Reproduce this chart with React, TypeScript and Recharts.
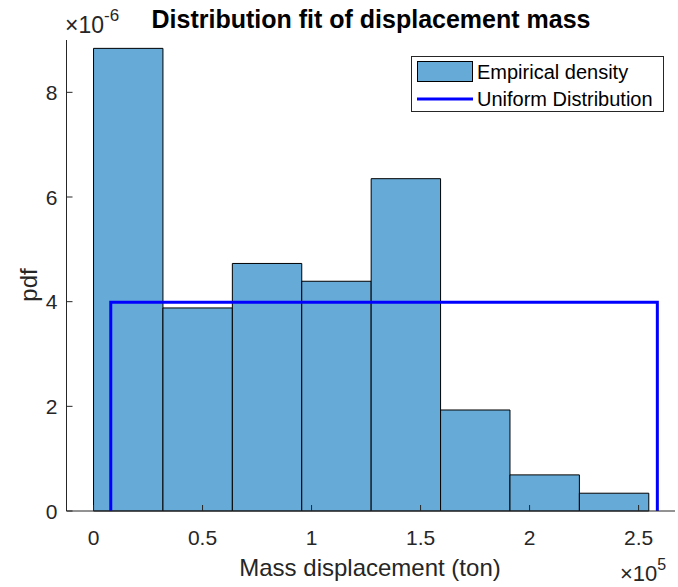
import React from 'react';
import {
  ComposedChart,
  XAxis,
  YAxis,
  Line,
  ReferenceArea,
  Legend,
  Label,
  Customized,
} from 'recharts';

// Histogram bin edges (ton) and empirical density per bin
const binEdges = [0, 31835, 63670, 95505, 127340, 159175, 191010, 222845, 254680];
const binDensity = [8.84e-6, 3.88e-6, 4.73e-6, 4.39e-6, 6.35e-6, 1.93e-6, 0.69e-6, 0.34e-6];

// Fitted uniform distribution: support [low, high] and its pdf level
const uniformLow = 7900;
const uniformHigh = 258600;
const uniformPdf = 3.99e-6;

const xTicks = [0, 50000, 100000, 150000, 200000, 250000];
const yTicks = [0, 2e-6, 4e-6, 6e-6, 8e-6];

const xDomain = [-12400, 266700];
const yDomain = [0, 9e-6];

const uniformCurve = [
  { x: uniformLow, y: 0 },
  { x: uniformLow, y: uniformPdf },
  { x: uniformHigh, y: uniformPdf },
  { x: uniformHigh, y: 0 },
];

const AXIS = '#262626';
const FONT = 'Liberation Sans, Arial, Helvetica, sans-serif';
const BAR_FILL = '#66AAD7';
const LINE_BLUE = '#0000FF';
const TICK_FS = 21;
const LABEL_FS = 24;
const LEGEND_FS = 20;

const fmtX = (v: number) => String(Math.round((v / 1e5) * 100) / 100);
const fmtY = (v: number) => String(Math.round(v * 1e6 * 100) / 100);

// MATLAB-like ticks: short marks pointing into the plot, label outside
const XTick = (props: any) => {
  const { x, y, payload } = props;
  return (
    <g>
      <line x1={x} y1={y} x2={x} y2={y - 6} stroke={AXIS} strokeWidth={1} />
      <text x={x} y={y + 34} textAnchor="middle" fill={AXIS} fontSize={TICK_FS} fontFamily={FONT}>
        {fmtX(payload.value)}
      </text>
    </g>
  );
};

const YTick = (props: any) => {
  const { x, y, payload } = props;
  return (
    <g>
      <line x1={x} y1={y} x2={x + 6} y2={y} stroke={AXIS} strokeWidth={1} />
      <text x={x - 9} y={y + 7.5} textAnchor="end" fill={AXIS} fontSize={TICK_FS} fontFamily={FONT}>
        {fmtY(payload.value)}
      </text>
    </g>
  );
};

const LegendBox = () => (
  <div
    style={{
      width: 253,
      height: 56,
      border: `1px solid ${AXIS}`,
      background: '#fff',
      fontFamily: FONT,
      fontSize: LEGEND_FS,
      color: '#000',
      boxSizing: 'border-box',
      position: 'relative',
    }}
  >
    <svg width={62} height={54} style={{ position: 'absolute', left: 0, top: 0 }}>
      <rect x={5.5} y={4.5} width={55} height={20} fill={BAR_FILL} stroke="#000" strokeWidth={1} />
      <line x1={5} y1={42} x2={61} y2={42} stroke={LINE_BLUE} strokeWidth={3} />
    </svg>
    <div style={{ position: 'absolute', left: 65, top: 4, lineHeight: '22px', whiteSpace: 'nowrap' }}>
      Empirical density
    </div>
    <div style={{ position: 'absolute', left: 65, top: 31, lineHeight: '22px', whiteSpace: 'nowrap' }}>
      Uniform Distribution
    </div>
  </div>
);

// Title and the axis exponent multipliers
const Annotations = () => (
  <g fontFamily={FONT}>
    <text x={371} y={28} textAnchor="middle" fontSize={25} fontWeight="bold" fill="#000">
      Distribution fit of displacement mass
    </text>
    <text x={65} y={33} fontSize={23} fill={AXIS}>
      <tspan>×10</tspan>
      <tspan fontSize={17} dy={-12}>-6</tspan>
    </text>
    <text x={620} y={581} fontSize={22} fill={AXIS}>
      <tspan>×10</tspan>
      <tspan fontSize={16} dy={-11}>5</tspan>
    </text>
  </g>
);

export default function App() {
  return (
    <div style={{ position: 'absolute', left: 0, top: 0, background: '#fff' }}>
      <ComposedChart
        width={678}
        height={587}
        data={uniformCurve}
        margin={{ top: 40, right: 3, left: 26.5, bottom: 46 }}
      >
        <XAxis
          dataKey="x"
          type="number"
          domain={xDomain}
          ticks={xTicks}
          allowDataOverflow
          height={30}
          tickSize={0}
          tickMargin={0}
          tickLine={false}
          tick={<XTick />}
          axisLine={{ stroke: AXIS, strokeWidth: 1 }}
        >
          <Label
            value="Mass displacement (ton)"
            position="insideBottom"
            content={() => (
              <text x={370} y={576} textAnchor="middle" fontSize={LABEL_FS} fill={AXIS} fontFamily={FONT}>
                Mass displacement (ton)
              </text>
            )}
          />
        </XAxis>
        <YAxis
          type="number"
          domain={yDomain}
          ticks={yTicks}
          allowDataOverflow
          width={40}
          tickSize={0}
          tickMargin={0}
          tickLine={false}
          tick={<YTick />}
          axisLine={{ stroke: AXIS, strokeWidth: 1 }}
        >
          <Label
            value="pdf"
            content={() => (
              <text
                x={0}
                y={0}
                transform="translate(37 285) rotate(-90)"
                textAnchor="middle"
                fontSize={LABEL_FS}
                fill={AXIS}
                fontFamily={FONT}
              >
                pdf
              </text>
            )}
          />
        </YAxis>
        {binDensity.map((d, i) => (
          <ReferenceArea
            key={i}
            x1={binEdges[i]}
            x2={binEdges[i + 1]}
            y1={0}
            y2={d}
            fill={BAR_FILL}
            fillOpacity={1}
            stroke="#000"
            strokeWidth={1}
            ifOverflow="visible"
          />
        ))}
        <Line
          dataKey="y"
          type="linear"
          stroke={LINE_BLUE}
          strokeWidth={3}
          dot={false}
          activeDot={false}
          isAnimationActive={false}
          name="Uniform Distribution"
        />
        <Legend
          layout="vertical"
          align="center"
          verticalAlign="middle"
          content={<LegendBox />}
          wrapperStyle={{ position: 'absolute', left: 411, top: 56, width: 253, height: 56 }}
        />
        <Customized component={<Annotations />} />
      </ComposedChart>
    </div>
  );
}
